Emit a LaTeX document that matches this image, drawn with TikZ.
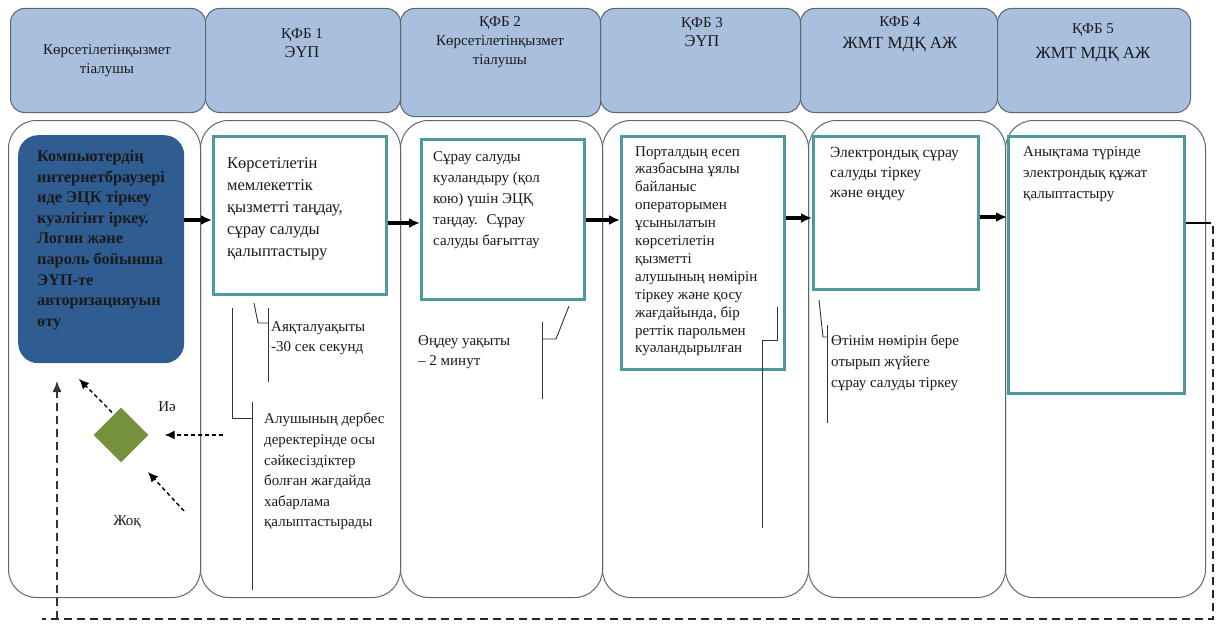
\documentclass[tikz,border=0pt]{standalone}
\usepackage{fontspec}
\setmainfont{Liberation Serif}
\usetikzlibrary{shapes.geometric,arrows.meta,calc}
\definecolor{hdrfill}{HTML}{A8BFDD}
\definecolor{hdrline}{HTML}{5B6672}
\definecolor{laneline}{HTML}{5F6670}
\definecolor{darkbox}{HTML}{2F5D92}
\definecolor{tealline}{HTML}{4E98A2}
\definecolor{dgreen}{HTML}{76923C}
\definecolor{txtcol}{HTML}{1A1A1A}
\begin{document}
\begin{tikzpicture}[x=1pt,y=-1pt,
  hdr/.style={draw=hdrline, line width=1pt, fill=hdrfill, rounded corners=14pt, anchor=north west, inner sep=0pt},
  hdrtxt/.style={align=center, inner sep=0pt, text=txtcol, font=\fontsize{15}{19}\selectfont},
  lane/.style={draw=laneline, line width=1pt, rounded corners=28pt, anchor=north west, inner sep=0pt},
  stepbox/.style={draw=tealline, line width=2.6pt, fill=white, anchor=north west, inner sep=0pt},
  darkstep/.style={fill=darkbox, rounded corners=20pt, anchor=north west, inner sep=0pt},
  txt/.style={anchor=north west, inner sep=0pt, align=left, text=txtcol},
  body/.style={font=\fontsize{15}{#1}\selectfont},
  arr/.style={-{Latex[length=11pt,width=10pt]}, line width=3.4pt},
  darr/.style={dash pattern=on 4pt off 3pt, line width=1.4pt, -{Latex[length=10pt,width=9pt]}},
  thinline/.style={line width=0.9pt, draw=black!80},
  loopdash/.style={line width=2.6pt, dash pattern=on 8pt off 5pt, draw=black!85}
]
\useasboundingbox (0,0) rectangle (1217,626);

% lanes
\node[lane, minimum width=192, minimum height=477] (l0) at (8,120) {};
\node[lane, minimum width=200, minimum height=477] (l1) at (200,120) {};
\node[lane, minimum width=202, minimum height=477] (l2) at (400,120) {};
\node[lane, minimum width=206, minimum height=477] (l3) at (602,120) {};
\node[lane, minimum width=197, minimum height=477] (l4) at (808,120) {};
\node[lane, minimum width=200, minimum height=477] (l5) at (1005,120) {};

% headers
\node[hdr, minimum width=195, minimum height=104] (h0) at (10,8) {};
\node[hdr, minimum width=195, minimum height=104] (h1) at (205,8) {};
\node[hdr, minimum width=200, minimum height=108] (h2) at (400,8) {};
\node[hdr, minimum width=200, minimum height=104] (h3) at (600,8) {};
\node[hdr, minimum width=197, minimum height=104] (h4) at (800,8) {};
\node[hdr, minimum width=193, minimum height=104] (h5) at (997,8) {};

\node[hdrtxt] (h0t) at (107,61) {Көрсетілетінқызмет\\тіалушы};
\node[hdrtxt] (h1t) at (302,43) {ҚФБ 1\\{\fontsize{16.5}{19}\selectfont ЭҮП}};
\node[hdrtxt] (h2t) at (500,42) {ҚФБ 2\\Көрсетілетінқызмет\\тіалушы};
\node[hdrtxt] (h3t) at (702,32) {ҚФБ 3\\{\fontsize{16.5}{19}\selectfont ЭҮП}};
\node[hdrtxt, font=\fontsize{15}{22}\selectfont] (h4t) at (900,34) {КФБ 4\\{\fontsize{17}{22}\selectfont ЖМТ МДҚ АЖ}};
\node[hdrtxt, font=\fontsize{15}{25}\selectfont] (h5t) at (1093,43) {ҚФБ 5\\{\fontsize{17}{25}\selectfont ЖМТ МДҚ АЖ}};

% step boxes
\node[darkstep, minimum width=166, minimum height=228] (s0) at (18,135) {};
\node[stepbox, minimum width=173, minimum height=158] (s1) at (212,135) {};
\node[stepbox, minimum width=163, minimum height=160] (s2) at (420,138) {};
\node[stepbox, minimum width=163, minimum height=233] (s3) at (620,135) {};
\node[stepbox, minimum width=165, minimum height=153] (s4) at (812,135) {};
\node[stepbox, minimum width=176, minimum height=257] (s5) at (1007,135) {};

% texts in steps
\node[txt, font=\fontsize{16.3}{20.6}\selectfont\bfseries] (s0t) at (37,150) {Компьютердің\\интернетбраузері\\иде ЭЦК тіркеу\\куәлігінт іркеу.\\Логин және\\пароль бойынша\\ЭҮП-те\\авторизацияуын\\өту};
\node[txt, font=\fontsize{16.5}{22}\selectfont] (s1t) at (227,157) {Көрсетілетін\\мемлекеттік\\қызметті таңдау,\\сұрау салуды\\қалыптастыру};
\node[txt, body=21] (s2t) at (433,151) {Сұрау салуды\\куәландыру (қол\\кою) үшін ЭЦҚ\\таңдау.~ Сұрау\\салуды бағыттау};
\node[txt, body=17.9] (s3t) at (635,146) {Порталдың есеп\\жазбасына ұялы\\байланыс\\операторымен\\ұсынылатын\\көрсетілетін\\қызметті\\алушының нөмірін\\тіркеу және қосу\\жағдайында, бір\\реттік парольмен\\куәландырылған};
\node[txt, font=\fontsize{15.5}{20}\selectfont] (s4t) at (830,147) {Электрондық сұрау\\салуды тіркеу\\және өңдеу};
\node[txt, body=21] (s5t) at (1023,146) {Анықтама түрінде\\электрондық құжат\\қалыптастыру};

% notes
\node[txt, body=20] (n1) at (271,321) {Аяқталуақыты\\-30 сек секунд};
\node[txt, body=20.6] (n2) at (264,413) {Алушының дербес\\деректерінде осы\\сәйкесіздіктер\\болған жағдайда\\хабарлама\\қалыптастырады};
\node[txt, body=20] (n3) at (418,335) {Өңдеу уақыты\\– 2 минут};
\node[txt, body=21] (n4) at (831,335) {Өтінім нөмірін бере\\отырып жүйеге\\сұрау салуды тіркеу};

% note brackets
\draw[thinline] (254,303) -- (258,323) -- (268,323);
\draw[thinline] (268,308) -- (268,382);
\draw[thinline] (232,308) -- (232,418) -- (252,418);
\draw[thinline] (252,402) -- (252,590);
\draw[thinline] (569,306) -- (556,339) -- (542,339);
\draw[thinline] (542,322) -- (542,399);
\draw[thinline] (777,307) -- (777,340) -- (762,340);
\draw[thinline] (762,340) -- (762,528);
\draw[thinline] (819,300) -- (823,337) -- (827,337);
\draw[thinline] (827,325) -- (827,423);

% main arrows
\draw[arr] (s0.east |- 0,220) -- (s1.west |- 0,220);
\draw[arr] (s1.east |- 0,223) -- (s2.west |- 0,223);
\draw[arr] (s2.east |- 0,220) -- (s3.west |- 0,220);
\draw[arr] (s3.east |- 0,218) -- (s4.west |- 0,218);
\draw[arr] (s4.east |- 0,217) -- (s5.west |- 0,217);

% decision
\node[diamond, fill=dgreen, minimum width=55, minimum height=55, inner sep=0pt] (dec) at (121,435) {};
\node[txt, anchor=center, body=18] (yes) at (167,407) {Иә};
\node[txt, anchor=center, body=18] (no) at (127,522) {Жоқ};

\coordinate (yesTip) at (79,379);
\coordinate (noteTail) at (223,435);
\coordinate (noTail) at (184,511);
\coordinate (noTip) at (148,472);
\draw[darr] ($(dec.north)+(-9,5)$) -- (yesTip);
\draw[darr] (noteTail) -- ($(dec.east)+(16,0)$);
\draw[darr] (noTail) -- (noTip);

% return loop
\coordinate (lp1) at (1211,223);
\coordinate (lp2) at (1213,619);
\coordinate (lp3) at (57,619);
\coordinate (lpTip) at (57,381);
\draw[line width=2.8pt] (s5.east |- lp1) -- (lp1);
\draw[loopdash] (1213,226) -- (lp2) -- (42,619);
\draw[dash pattern=on 8pt off 5pt, line width=1.3pt, draw=black!80, -{Latex[length=11pt,width=9pt,fill=darkbox!70!black]}] (lp3) -- (lpTip);
\end{tikzpicture}
\end{document}
